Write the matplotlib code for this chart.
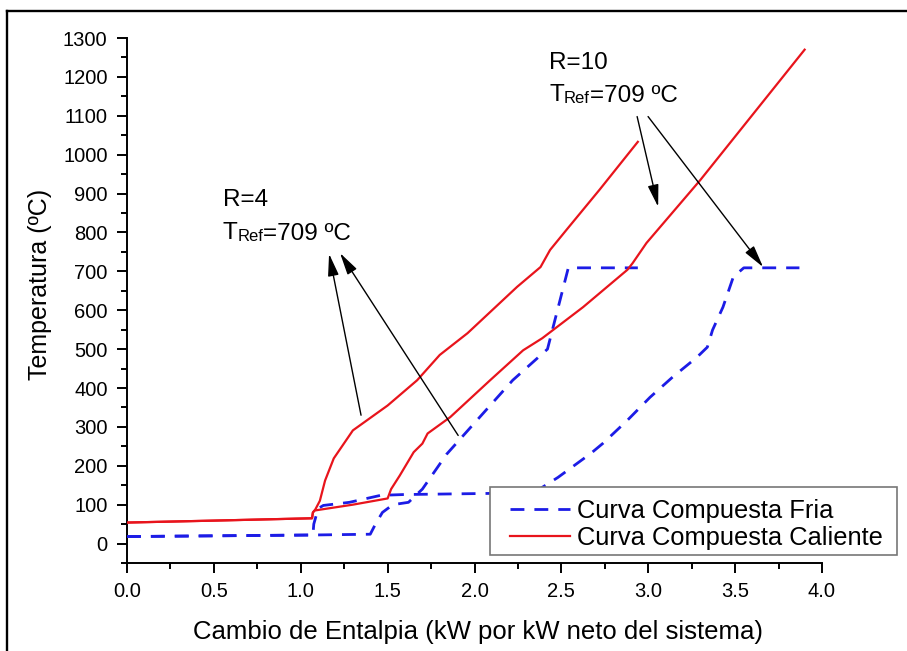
import matplotlib
matplotlib.use('Agg')
import matplotlib.pyplot as plt
from matplotlib.lines import Line2D
from matplotlib.patches import Rectangle
from matplotlib.ticker import MultipleLocator, FormatStrFormatter

plt.rcParams['font.family'] = ['Liberation Sans', 'DejaVu Sans']

# ── Composite curves (enthalpy in kW per kW net, temperature in ºC) ──────────
# R = 4
hot_r4_x = [0.00, 0.50, 1.065, 1.07, 1.083, 1.11, 1.14, 1.19, 1.30, 1.50, 1.67,
            1.80, 1.96, 2.245, 2.38, 2.435, 2.53, 2.72, 2.94]
hot_r4_y = [54, 59, 65, 80, 87, 110, 162, 219, 291, 355, 420,
            485, 541, 660, 711, 755, 807, 910, 1033]
cold_r4_x = [0.00, 1.07, 1.40, 1.43, 1.47, 1.53, 1.62, 1.70, 1.84, 2.09, 2.22,
             2.42, 2.54, 2.94]
cold_r4_y = [18, 22, 24, 50, 80, 100, 106, 140, 230, 355, 420,
             500, 709, 709]

# R = 10
hot_r10_x = [0.00, 0.50, 1.065, 1.07, 1.08, 1.30, 1.50, 1.52, 1.57, 1.65, 1.70,
             1.73, 1.86, 2.09, 2.28, 2.39, 2.625, 2.88, 2.91, 2.99, 3.30, 3.90]
hot_r10_y = [54, 59, 65, 80, 85, 100, 116, 140, 175, 235, 257,
             283, 325, 420, 497, 528, 608, 704, 721, 773, 935, 1270]
cold_r10_x = [0.00, 1.07, 1.075, 1.10, 1.13, 1.28, 1.46, 1.59, 2.10, 2.36, 2.48,
              2.67, 2.74, 2.88, 3.01, 3.14, 3.28, 3.34, 3.37, 3.43, 3.49, 3.55, 3.87]
cold_r10_y = [18, 22, 50, 90, 98, 106, 124, 126, 129, 136, 170,
              232, 258, 317, 376, 428, 479, 505, 549, 608, 686, 709, 709]

# arrow tails / heads for the two annotations
r4_tails = [(1.347, 330), (1.906, 278)]
r4_heads = [(1.163, 745), (1.226, 747)]
r10_tails = [(2.936, 1098), (2.999, 1098)]
r10_heads = [(3.057, 866), (3.661, 711)]

RED = '#e8141c'
BLUE = '#1c1ce6'

W, H = 907, 651
fig = plt.figure(figsize=(W / 100, H / 100), dpi=100, facecolor='white')
ax = fig.add_axes([127 / W, 1 - 563 / H, 695 / W, 525 / H])

ax.plot(cold_r4_x, cold_r4_y, color=BLUE, lw=2.0, ls=(0, (5, 3.6)),
        label='Curva Compuesta Fria', zorder=3)
ax.plot(cold_r10_x, cold_r10_y, color=BLUE, lw=2.0, ls=(0, (5, 3.6)), zorder=3)
ax.plot(hot_r4_x, hot_r4_y, color=RED, lw=1.6, label='Curva Compuesta Caliente', zorder=4)
ax.plot(hot_r10_x, hot_r10_y, color=RED, lw=1.6, zorder=4)

ax.set_xlim(0, 4)
ax.set_ylim(-50, 1300)
ax.xaxis.set_major_locator(MultipleLocator(0.5))
ax.xaxis.set_minor_locator(MultipleLocator(0.25))
ax.xaxis.set_major_formatter(FormatStrFormatter('%.1f'))
ax.yaxis.set_major_locator(MultipleLocator(100))
ax.yaxis.set_minor_locator(MultipleLocator(50))
ax.set_yticks(range(0, 1301, 100))

for side in ('top', 'right'):
    ax.spines[side].set_visible(False)
for side in ('left', 'bottom'):
    ax.spines[side].set_linewidth(1.4)

ax.tick_params(which='major', direction='out', length=7, width=1.4,
               labelsize=14.5, colors='black')
ax.tick_params(which='minor', direction='out', length=4, width=1.4)
ax.tick_params(axis='x', pad=7)
ax.tick_params(axis='y', pad=7)

ax.set_xlabel('Cambio de Entalpia (kW por kW neto del sistema)', fontsize=18.5)
ax.set_ylabel('Temperatura (ºC)', fontsize=18)
ax.xaxis.set_label_coords(0.505, -0.108)
ax.yaxis.set_label_coords(-0.108, 0.53)

# annotation arrows
arrow_kw = dict(arrowstyle='-|>,head_length=0.9,head_width=0.22',
                mutation_scale=15, color='black', lw=1.0, shrinkA=0, shrinkB=0)
for tail, head in zip(r4_tails + r10_tails, r4_heads + r10_heads):
    ax.annotate('', xy=head, xytext=tail, xycoords='data', textcoords='data',
                arrowprops=arrow_kw, zorder=5)


def ref_label(x, y, line1, gap):
    # "R=.." on top, "T_Ref=709 ºC" below, Ref drawn smaller on the baseline
    ax.text(x, y, line1, fontsize=17.5, va='baseline', ha='left')
    t = ax.text(x, y - gap, 'T', fontsize=17.5, va='baseline', ha='left')
    sub = ax.annotate('Ref', xy=(1, 0), xycoords=t, fontsize=12,
                      va='bottom', ha='left')
    ax.annotate('=709 ºC', xy=(1, 0), xycoords=sub, fontsize=17.5,
                va='bottom', ha='left', xytext=(0, -1.2), textcoords='offset points')


ref_label(0.55, 868, 'R=4', 84)
ref_label(2.43, 1220, 'R=10', 81)

# legend: white box drawn by hand, entries placed inside it
ax.add_patch(Rectangle((0.5223, 0.0152), 0.5856, 0.1296, transform=ax.transAxes,
                       facecolor='white', edgecolor='#777777', lw=1.2,
                       clip_on=False, zorder=6))
leg = ax.legend(loc='upper left', bbox_to_anchor=(0.551, 0.122), fontsize=18.4,
                frameon=False, handlelength=2.34, handletextpad=0.27,
                labelspacing=0.12, borderpad=0, borderaxespad=0)
leg.set_zorder(7)

# outer frame round the figure
fig.add_artist(Line2D([6.5 / W, 1], [1 - 10.5 / H] * 2, transform=fig.transFigure,
                      color='black', lw=1.7))
fig.add_artist(Line2D([6.5 / W] * 2, [0, 1 - 10.5 / H], transform=fig.transFigure,
                      color='black', lw=1.7))

fig.savefig('out.png', dpi=100, facecolor='white')
